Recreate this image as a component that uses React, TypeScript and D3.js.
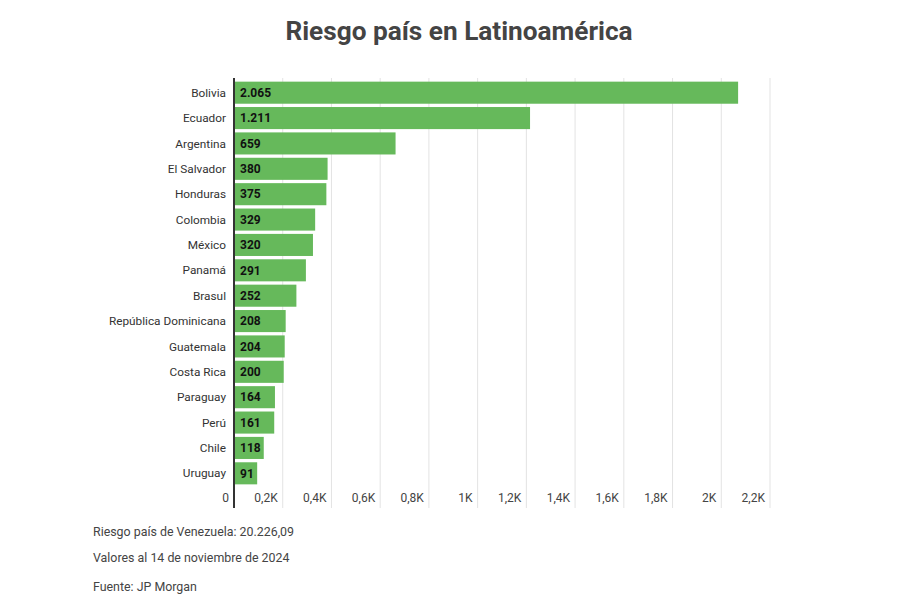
import React from "react";
import * as d3 from "d3";

const countries = [
  "Bolivia", "Ecuador", "Argentina", "El Salvador", "Honduras", "Colombia",
  "México", "Panamá", "Brasul", "República Dominicana", "Guatemala",
  "Costa Rica", "Paraguay", "Perú", "Chile", "Uruguay",
];
const values = [2065, 1211, 659, 380, 375, 329, 320, 291, 252, 208, 204, 200, 164, 161, 118, 91];
const valueLabels = ["2.065", "1.211", "659", "380", "375", "329", "320", "291", "252", "208", "204", "200", "164", "161", "118", "91"];
const ticks = [0, 200, 400, 600, 800, 1000, 1200, 1400, 1600, 1800, 2000, 2200];
const tickLabels = ["0", "0,2K", "0,4K", "0,6K", "0,8K", "1K", "1,2K", "1,4K", "1,6K", "1,8K", "2K", "2,2K"];
const title = "Riesgo país en Latinoamérica";
const notes = [
  "Riesgo país de Venezuela: 20.226,09",
  "Valores al 14 de noviembre de 2024",
  "Fuente: JP Morgan",
];

export default function App() {
  const W = 900, H = 600;
  const x0 = 234, x1 = 770;
  const x = d3.scaleLinear().domain([0, 2200]).range([x0, x1]);
  const y = d3.scaleBand<string>().domain(countries).range([80, 486]).paddingInner(0.13).paddingOuter(0.065);
  const font = "Roboto, 'Noto Sans', Arial, sans-serif";
  const gridTop = 78, gridBottom = 508;
  return (
    <svg width={W} height={H} style={{ position: "absolute", left: 0, top: 0, background: "#fff", fontFamily: font }}>
      <rect width={W} height={H} fill="#fff" />
      <text x={459} y={40} textAnchor="middle" fontSize={26.2} fontWeight={700} fill="#444">{title}</text>
      {ticks.slice(1).map((t) => (
        <line key={t} x1={x(t)} x2={x(t)} y1={gridTop} y2={gridBottom} stroke="#e3e3e3" strokeWidth={1} />
      ))}
      {countries.map((c, i) => (
        <g key={c}>
          <rect x={x(0) + 1} y={y(c)!} width={x(values[i]) - x(0)} height={y.bandwidth()} fill="#66b95b" />
          <text x={240} y={y(c)! + y.bandwidth() / 2} dy="0.35em" fontSize={12} fontWeight={700} fill="#111">{valueLabels[i]}</text>
          <text x={226} y={y(c)! + y.bandwidth() / 2} dy="0.35em" textAnchor="end" fontSize={11.8} fill="#333">{c}</text>
        </g>
      ))}
      <line x1={x0} x2={x0} y1={gridTop} y2={gridBottom} stroke="#333" strokeWidth={2} />
      {ticks.map((t, i) => (
        <text key={t} x={x(t) - 5} y={498} dy="0.35em" textAnchor="end" fontSize={12} fill="#444">{tickLabels[i]}</text>
      ))}
      {notes.map((n, i) => (
        <text key={n} x={93} y={[536, 562, 591][i]} fontSize={12.4} fill="#444">{n}</text>
      ))}
    </svg>
  );
}
